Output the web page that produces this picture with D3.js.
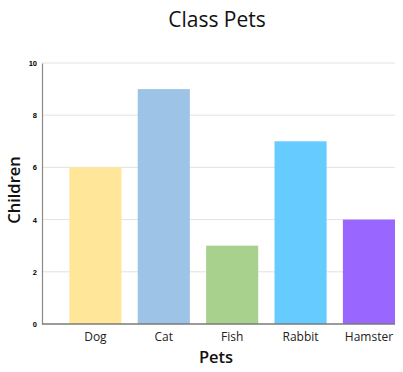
<!DOCTYPE html>
<html><head><meta charset="utf-8">
<script src="https://cdn.jsdelivr.net/npm/d3@7"></script>
<style>body{margin:0;background:#fff}svg{display:block}</style>
</head><body>
<svg id="c" width="403" height="372"></svg>
<script>
const categories = ["Dog","Cat","Fish","Rabbit","Hamster"];
const values = [6,9,3,7,4];
const colors = ["#FFE699","#9DC3E6","#A9D18E","#66CCFF","#9966FF"];
const yTicks = [0,2,4,6,8,10];
const title = "Class Pets", xTitle = "Pets", yTitle = "Children";

const svg = d3.select("#c");
const x = d3.scaleBand().domain(categories).range([42,395]).paddingInner(0.238).paddingOuter(0.2).align(1);
const y = d3.scaleLinear().domain([0,10]).range([324,63]);

svg.append("g").selectAll("line").data(yTicks.filter(d=>d>0)).join("line")
  .attr("x1",42).attr("x2",395).attr("y1",d=>y(d)).attr("y2",d=>y(d))
  .attr("stroke","#e2e2e2").attr("stroke-width",1);

svg.append("g").selectAll("rect").data(values).join("rect")
  .attr("x",(d,i)=>x(categories[i])).attr("width",x.bandwidth())
  .attr("y",d=>y(d)).attr("height",d=>y(0)-y(d))
  .attr("fill",(d,i)=>colors[i]);

const ya = svg.append("g").attr("transform","translate(42,0)")
  .call(d3.axisLeft(y).tickValues(yTicks).tickSize(0).tickPadding(5));
ya.select(".domain").attr("stroke","#8a8a8a").attr("stroke-width",1.2);
ya.selectAll("text").attr("font-family","Liberation Sans, Arial, sans-serif").attr("font-size",7.5).attr("font-weight","bold").attr("fill","#000");

const xa = svg.append("g").attr("transform","translate(0,324)")
  .call(d3.axisBottom(x).tickSize(0).tickPadding(8));
xa.select(".domain").attr("stroke","#7a7a7a").attr("stroke-width",1.5).attr("d","M42,0H395");
xa.selectAll("text").attr("font-family","Open Sans, sans-serif").attr("font-size",12).attr("fill","#222");

svg.append("text").attr("x",217).attr("y",27).attr("text-anchor","middle")
  .attr("font-family","Open Sans, sans-serif").attr("font-size",21).attr("font-weight",500).attr("fill","#111").text(title);
svg.append("text").attr("x",216).attr("y",363).attr("text-anchor","middle")
  .attr("font-family","Open Sans, sans-serif").attr("font-size",16.5).attr("font-weight",600).attr("fill","#111").text(xTitle);
svg.append("text").attr("transform","translate(20,190) rotate(-90)").attr("text-anchor","middle")
  .attr("font-family","Open Sans, sans-serif").attr("font-size",16.5).attr("font-weight",600).attr("fill","#111").text(yTitle);
</script>
</body></html>
